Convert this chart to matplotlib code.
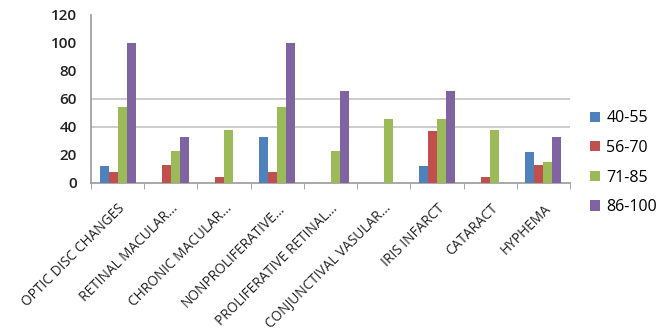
import matplotlib.pyplot as plt
import numpy as np

plt.rcParams['font.family'] = ['Open Sans', 'DejaVu Sans']

# data
categories = ['OPTIC DISC CHANGES', 'RETINAL MACULAR...', 'CHRONIC MACULAR...',
              'NONPROLIFERATIVE...', 'PROLIFERATIVE RETINAL...',
              'CONJUNCTIVAL VASULAR...', 'IRIS INFARCT', 'CATARACT', 'HYPHEMA']
series_names = ['40-55', '56-70', '71-85', '86-100']
v_40_55 = [12, 0, 0, 33, 0, 0, 12, 0, 22]
v_56_70 = [8, 13, 4, 8, 0, 0, 37, 4, 13]
v_71_85 = [54, 23, 38, 54, 23, 46, 46, 38, 15]
v_86_100 = [100, 33, 0, 100, 66, 0, 66, 0, 33]
y_ticks = [0, 20, 40, 60, 80, 100, 120]
grid_at = [40, 60]

colors = ['#4F81BD', '#C0504D', '#9BBB59', '#8064A2']
values = [v_40_55, v_56_70, v_71_85, v_86_100]

fig = plt.figure(figsize=(6.63, 3.36), dpi=100)
ax = fig.add_axes([91/663, 1-183/336, (570-91)/663, 168/336])

x = np.arange(len(categories))
w = 0.17
for i, (vals, c, name) in enumerate(zip(values, colors, series_names)):
    ax.bar(x + (i - 1.5) * w, vals, width=w, color=c, label=name, zorder=3)

for g in grid_at:
    ax.axhline(g, color='#c4c4c4', linewidth=1.2, zorder=1)

ax.set_xlim(-0.5, len(categories) - 0.5)
ax.set_ylim(0, 120)
ax.set_yticks(y_ticks)
ax.tick_params(axis='y', length=0, pad=10, labelsize=11)
for lab in ax.get_yticklabels():
    lab.set_fontweight('semibold')
    lab.set_color('#222222')

# category boundary ticks below the axis
ax.set_xticks(np.arange(len(categories) + 1) - 0.5, minor=True)
ax.tick_params(axis='x', which='minor', length=4, color='#999999', direction='out')
ax.set_xticks(x)
ax.set_xticklabels(categories, rotation=45, ha='right', rotation_mode='anchor',
                   fontsize=9.8, color='#222222')
ax.tick_params(axis='x', which='major', length=0, pad=13)

for s in ['top', 'right']:
    ax.spines[s].set_visible(False)
ax.spines['left'].set_color('#999999')
ax.spines['bottom'].set_color('#999999')
ax.spines['left'].set_linewidth(1.2)
ax.spines['bottom'].set_linewidth(1.2)

fig.legend(loc='upper left', bbox_to_anchor=(584/663, 1-104/336), frameon=False,
           fontsize=11.5, handlelength=0.6, handleheight=0.6, handletextpad=0.4,
           labelspacing=0.85, borderaxespad=0)

plt.savefig('out.png', dpi=100)
